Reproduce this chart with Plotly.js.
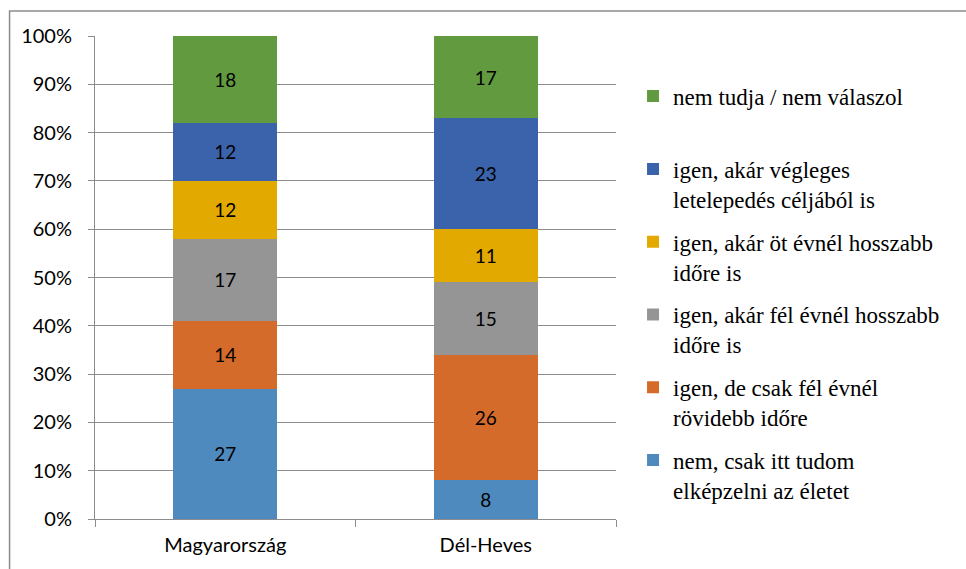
<!DOCTYPE html>
<html>
<head>
<meta charset="utf-8">
<script src="https://cdn.plot.ly/plotly-3.0.1.min.js"></script>
<style>html,body{margin:0;padding:0;background:#fff;}#chart{width:966px;height:569px;}</style>
</head>
<body>
<div id="chart"></div>
<script>
const categories = ["Magyarország", "Dél-Heves"];
const seriesNames = [
  "nem, csak itt tudom<br>elképzelni az életet",
  "igen, de csak fél évnél<br>rövidebb időre",
  "igen, akár fél évnél hosszabb<br>időre is",
  "igen, akár öt évnél hosszabb<br>időre is",
  "igen, akár végleges<br>letelepedés céljából is",
  "nem tudja / nem válaszol<br>&nbsp;"
];
const nemCsakItt = [27, 8];
const rovidebb = [14, 26];
const felEvnel = [17, 15];
const otEvnel = [12, 11];
const vegleges = [12, 23];
const nemTudja = [18, 17];
const seriesValues = [nemCsakItt, rovidebb, felEvnel, otEvnel, vegleges, nemTudja];
const colors = ["#4F8ABE", "#D46B2B", "#959595", "#E2A900", "#3B63AB", "#629B3F"];
const yTicks = [0, 10, 20, 30, 40, 50, 60, 70, 80, 90, 100];

const traces = seriesValues.map((vals, i) => ({
  type: "bar",
  x: categories,
  y: vals,
  name: seriesNames[i],
  legendgroup: "g" + i,
  legendrank: seriesValues.length - i,
  marker: { color: colors[i], line: { width: 0 } },
  text: vals.map(String),
  textposition: "inside",
  insidetextanchor: "middle",
  textangle: 0,
  textfont: { family: "Lato, sans-serif", size: 19, color: "#000" },
  hoverinfo: "skip"
}));

const layout = {
  width: 966,
  height: 569,
  margin: { l: 95, r: 350, t: 36, b: 50, autoexpand: false },
  paper_bgcolor: "#fff",
  plot_bgcolor: "#fff",
  barmode: "stack",
  bargap: 0.6,
  showlegend: true,
  legend: {
    x: 1.0327, xanchor: "left",
    y: 0.92, yanchor: "top",
    traceorder: "grouped",
    tracegroupgap: 10,
    valign: "top",
    font: { family: "Liberation Serif", size: 23, color: "#000" },
    bgcolor: "rgba(0,0,0,0)"
  },
  xaxis: {
    type: "category",
    tickson: "boundaries",
    ticks: "outside",
    ticklen: 7,
    tickcolor: "#8c8c8c",
    showline: true,
    linecolor: "#8c8c8c",
    showgrid: false,
    automargin: false,
    ticklabelstandoff: 8,
    tickfont: { family: "Lato, sans-serif", size: 20, color: "#000" },
    fixedrange: true
  },
  yaxis: {
    range: [0, 100],
    tickvals: yTicks,
    ticktext: yTicks.map(v => v + "%"),
    ticks: "outside",
    ticklen: 6,
    tickcolor: "#8c8c8c",
    showline: true,
    linecolor: "#8c8c8c",
    showgrid: true,
    gridcolor: "#8c8c8c",
    zeroline: false,
    automargin: false,
    ticklabelstandoff: 12,
    tickfont: { family: "Lato, sans-serif", size: 20, color: "#000" },
    fixedrange: true
  },
  shapes: [{
    type: "rect", xref: "paper", yref: "paper",
    x0: -0.164, x1: 2.0, y0: -0.2, y1: 1.0517,
    line: { color: "#8c8c8c", width: 1.5 }, fillcolor: "rgba(0,0,0,0)", layer: "below"
  }]
};

Plotly.newPlot("chart", traces, layout, { displayModeBar: false, staticPlot: true });
</script>
</body>
</html>
